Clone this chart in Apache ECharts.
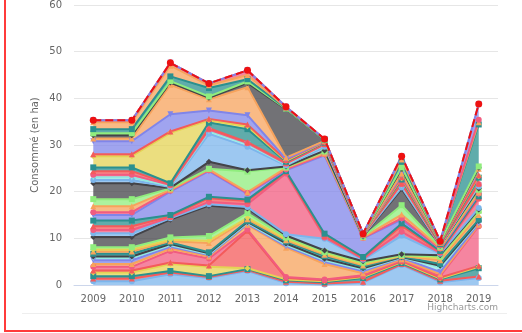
<!DOCTYPE html>
<html>
<head>
<meta charset="utf-8">
<script src="https://cdn.jsdelivr.net/npm/echarts@6/dist/echarts.min.js"></script>
<style>
  html, body { margin:0; padding:0; background:#fff; }
  #main { width:522px; height:333px; }
</style>
</head>
<body>
<div id="main"></div>
<script>
// years on the x axis
var years = ['2009','2010','2011','2012','2013','2014','2015','2016','2017','2018','2019'];
var yTicks = [0, 10, 20, 30, 40, 50, 60];

// total (red dashed line on top)
var total = [35.3, 35.3, 47.6, 43.2, 46.0, 38.2, 31.3, 11.0, 27.6, 9.4, 38.8];

// stacked layers, bottom to top
var s01 = [0.8, 0.8, 2.3, 1.5, 3.0, 0.4, 0.1, 0.5, 4.3, 0.6, 1.5];
var s02 = [0.6, 0.6, 0.4, 0.2, 0.2, 0.3, 0.2, 0.2, 0.2, 0.3, 0.3];
var s03 = [0.5, 0.5, 0.3, 0.2, 0.2, 0.3, 0.3, 0.8, 0.2, 0.3, 1.8];
var s04 = [0.8, 0.8, 1.5, 2.0, 0.2, 0.2, 0.2, 0.2, 0.2, 0.2, 0.3];
var s05 = [0.4, 0.4, 0.3, 0.3, 8.0, 0.3, 0.2, 0.2, 0.2, 0.2, 0.2];
var s06 = [0.8, 0.8, 2.5, 1.5, 0.3, 0.2, 0.2, 0.2, 0.2, 0.3, 8.5];
var s07 = [0.6, 0.6, 0.5, 0.4, 1.0, 6.3, 3.3, 0.4, 0.2, 0.4, 0.3];
var s08 = [0.8, 0.8, 0.4, 0.3, 0.2, 0.3, 0.5, 0.5, 0.3, 0.5, 0.3];
var s09 = [0.5, 0.5, 0.3, 0.2, 0.2, 0.3, 0.3, 0.3, 0.1, 1.0, 0.3];
var s10 = [0.3, 0.3, 0.3, 0.2, 0.2, 0.3, 0.3, 0.3, 0.1, 0.3, 0.2];
var s11 = [0.6, 0.6, 0.3, 0.2, 0.2, 0.4, 0.6, 0.3, 0.1, 0.4, 0.3];
var s12 = [0.5, 0.5, 0.3, 2.0, 0.4, 0.3, 0.3, 0.3, 0.1, 0.8, 1.0];
var s13 = [0.4, 0.4, 0.3, 0.5, 0.3, 0.3, 0.3, 0.3, 0.1, 0.5, 0.6];
var s14 = [0.5, 0.5, 0.5, 1.0, 1.0, 0.3, 0.3, 0.3, 0.1, 0.3, 0.3];
var s15 = [2.2, 2.2, 3.8, 6.5, 1.0, 0.4, 0.3, 0.3, 0.2, 0.3, 0.3];
var s16 = [0.8, 0.8, 0.3, 0.3, 0.3, 0.3, 2.5, 0.3, 4.0, 0.3, 0.3];
var s17 = [0.7, 0.7, 0.2, 0.5, 0.6, 13.0, 0.3, 0.2, 0.8, 0.2, 2.0];
var s18 = [0.8, 0.8, 0.2, 0.8, 0.7, 0.3, 0.3, 0.2, 1.3, 0.2, 0.2];
var s19 = [1.2, 1.2, 0.3, 0.3, 0.3, 0.2, 0.5, 0.2, 0.5, 0.2, 0.3];
var s20 = [1.2, 1.2, 5.0, 5.5, 1.2, 0.2, 16.8, 4.0, 0.8, 0.4, 0.4];
var s21 = [0.6, 0.6, 0.2, 0.2, 0.2, 0.2, 0.2, 0.1, 0.3, 0.1, 0.2];
var s22 = [1.3, 1.3, 0.2, 0.2, 0.2, 0.3, 0.2, 0.1, 0.8, 0.2, 0.2];
var s23 = [1.5, 1.5, 0.3, 0.1, 4.4, 0.1, 0.4, 0.1, 2.0, 0.2, 0.6];
var s24 = [3.4, 3.4, 0.1, 1.5, 0.3, 0.2, 0.2, 0.1, 3.5, 0.2, 0.3];
var s25 = [0.7, 0.7, 0.2, 6.0, 5.0, 0.2, 0.8, 0.2, 0.3, 0.1, 0.4];
var s26 = [0.6, 0.6, 0.2, 0.6, 0.6, 0.2, 0.4, 0.1, 0.5, 0.1, 0.3];
var s27 = [0.5, 0.5, 0.2, 0.3, 0.2, 0.2, 0.1, 0.0, 0.2, 0.0, 0.2];
var s28 = [0.8, 0.8, 0.2, 0.3, 0.2, 0.2, 0.1, 0.0, 0.2, 0.0, 0.2];
var s29 = [0.8, 0.8, 0.2, 1.2, 2.8, 0.2, 0.3, 0.1, 0.8, 0.2, 1.2];
var s30 = [2.4, 2.4, 10.8, 0.5, 0.6, 0.2, 0.1, 0.0, 0.3, 0.2, 0.3];
var s31 = [0.4, 0.4, 0.3, 0.3, 0.4, 0.2, 0.1, 0.0, 0.2, 0.0, 0.2];
var s32 = [2.8, 2.8, 3.7, 1.8, 2.0, 0.2, 0.1, 0.0, 0.5, 0.1, 1.2];
var s33 = [0.6, 0.6, 6.3, 2.4, 6.0, 0.3, 0.1, 0.0, 0.3, 0.0, 0.2];
var s34 = [0.7, 0.7, 0.5, 0.3, 0.9, 10.4, 0.1, 0.1, 1.0, 0.1, 0.2];
var s35 = [0.4, 0.4, 0.3, 0.3, 0.3, 0.1, 0.1, 0.0, 0.3, 0.0, 0.3];
var s36 = [0.9, 0.9, 1.0, 1.8, 0.5, 0.1, 0.1, 0.0, 1.2, 0.1, 9.0];
var s37 = [1.5, 1.5, 2.3, 0.6, 0.9, 0.1, 0.1, 0.0, 0.5, 0.1, 0.5];
var s38 = [0.4, 0.4, 0.6, 0.4, 1.0, 0.2, 0.0, 0.1, 0.7, 0.0, 0.5];
var s39 = [0.0, 0.0, 0.0, 0.0, 0.0, 0.0, 0.0, 0.0, 0.0, 0.0, 3.4];

var layers = [s01,s02,s03,s04,s05,s06,s07,s08,s09,s10,s11,s12,s13,s14,s15,s16,s17,s18,s19,s20,
              s21,s22,s23,s24,s25,s26,s27,s28,s29,s30,s31,s32,s33,s34,s35,s36,s37,s38,s39];

// highcharts palette index for each layer
var colorIdx = [0,8,7,6,8,5,3,4,9,1,7,3,6,2,1,0,5,8,7,4,5,3,2,1,0,9,5,8,7,6,8,4,3,1,2,7,3,5,4];

var palette = ['#7cb5ec','#434348','#90ed7d','#f7a35c','#8085e9','#f15c80','#e4d354','#2b908f','#f45b5b','#91e8e1'];
var symbols = ['circle','diamond','rect','triangle','path://M0,0L10,0L5,10Z'];

var series = layers.map(function(d, i){
  var c = colorIdx[i];
  return {
    name: 'S' + (i+1),
    type: 'line',
    stack: 'conso',
    data: d,
    symbol: symbols[c % 5],
    symbolSize: 6,
    showSymbol: true,
    lineStyle: { width: 2, color: palette[c] },
    itemStyle: { color: palette[c] },
    areaStyle: { color: palette[c], opacity: 0.75 },
    silent: true
  };
});

series.push({
  name: 'Total',
  type: 'line',
  data: total,
  symbol: 'circle',
  symbolSize: 7,
  lineStyle: { width: 2, color: '#ee1111', type: 'dashed' },
  itemStyle: { color: '#ee1111' },
  z: 10
});

var chart = echarts.init(document.getElementById('main'));
chart.setOption({
  animation: false,
  grid: { left: 74, right: 24, top: 2, bottom: 48 },
  xAxis: {
    type: 'category',
    data: years,
    boundaryGap: true,
    axisLine: { lineStyle: { color: '#ccd6eb' } },
    axisTick: { show: false },
    axisLabel: { color: '#666', fontSize: 10, fontFamily: 'DejaVu Sans', margin: 9 }
  },
  yAxis: {
    type: 'value',
    min: yTicks[0],
    max: yTicks[yTicks.length - 1],
    interval: 10,
    name: 'Consommé (en ha)',
    nameLocation: 'middle',
    nameGap: 34,
    nameMoveOverlap: false,
    nameTextStyle: { color: '#666', fontSize: 10, fontFamily: 'DejaVu Sans' },
    axisLine: { show: false },
    axisTick: { show: false },
    axisLabel: { color: '#666', fontSize: 10, fontFamily: 'DejaVu Sans', margin: 12 },
    splitLine: { lineStyle: { color: '#e6e6e6' } }
  },
  graphic: [
    { type: 'text', right: 24, top: 303,
      style: { text: 'Highcharts.com', fill: '#999', fontSize: 9, fontFamily: 'DejaVu Sans' } },
    { type: 'line', shape: { x1: 22, y1: 313.5, x2: 507, y2: 313.5 },
      style: { stroke: '#eeeeee', lineWidth: 1 } },
    { type: 'line', shape: { x1: 5, y1: 0, x2: 5, y2: 331 },
      style: { stroke: '#ff3b3b', lineWidth: 2 } },
    { type: 'line', shape: { x1: 4, y1: 331, x2: 522, y2: 331 },
      style: { stroke: '#ff3b3b', lineWidth: 2 } }
  ],
  series: series
});
</script>
</body>
</html>
